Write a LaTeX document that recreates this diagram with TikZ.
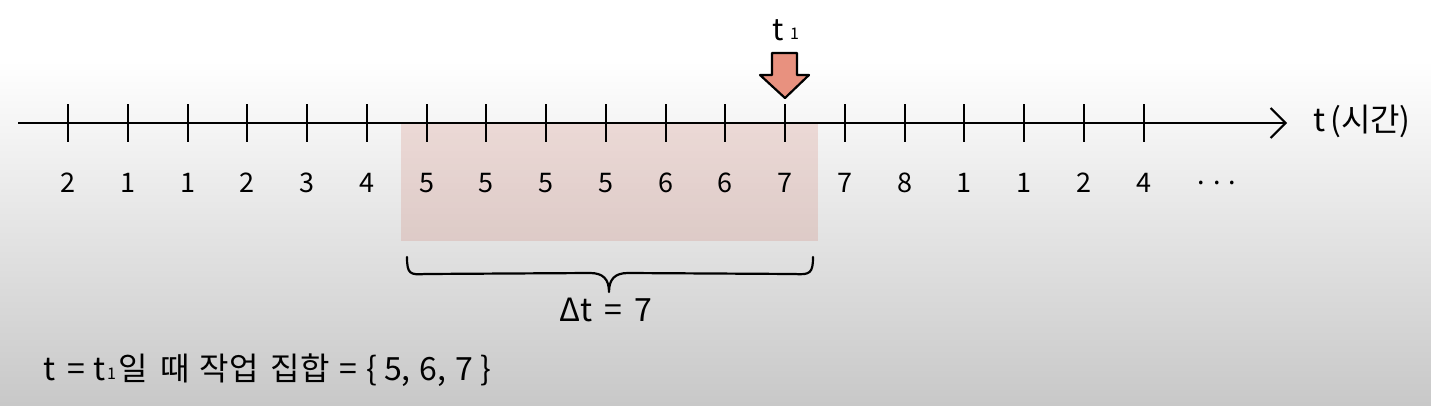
\documentclass[tikz,border=0pt]{standalone}
\usepackage{fontspec}
\setmainfont{Noto Sans CJK KR}
\usetikzlibrary{arrows.meta}
\definecolor{arrowfill}{RGB}{232,145,127}
\definecolor{pinkfill}{RGB}{205,120,105}
\definecolor{bgbot}{RGB}{200,200,200}
\tikzset{
  lbl/.style={font=\fontsize{27}{30}\selectfont, inner sep=0pt, anchor=center},
  txt/.style={font=\fontsize{30}{34}\selectfont, inner sep=0pt},
  bigtxt/.style={font=\fontsize{32}{36}\selectfont, inner sep=0pt},
  tickline/.style={line width=2pt},
  axisline/.style={line width=2pt, -{Straight Barb[length=15pt,width=30pt,line width=2pt]}},
  hand/.style={line width=2.2pt, line join=round, line cap=round},
}
\newcommand{\smallone}{{\fontsize{16}{16}\selectfont\raisebox{1pt}{1}}}
\begin{document}
\begin{tikzpicture}[x=1pt,y=-1pt]
\useasboundingbox (0,0) rectangle (1431,405);
% background
\fill[white] (0,0) rectangle (1431,61);
\shade[top color=white, bottom color=bgbot] (0,60) rectangle (1431,405);
% highlight window
\fill[pinkfill, opacity=0.22] (401,124) rectangle (818,241);
% axis
\coordinate (a0) at (18,123);
\coordinate (a1) at (1287,123);
\draw[axisline] (a0) -- (a1);
\node[bigtxt, anchor=west] (tlab) at (1313,121) {t\hspace{5pt}(시간)};
% ticks and labels
\foreach \v [count=\i from 0] in {2,1,1,2,3,4,5,5,5,5,6,6,7,7,8,1,1,2,4}{
  \pgfmathsetmacro{\xx}{68+59.75*\i}
  \draw[tickline] (\xx,104) -- (\xx,142);
  \node[lbl] (n\i) at (\xx,183) {\v};
}
\node[lbl] (dots) at (1217,183) {.\hspace{8pt}.\hspace{8pt}.};
% t1 arrow
\draw[hand, fill=arrowfill] (772,53) -- (797,53) -- (797,75) -- (809,75) -- (785,98) -- (760,75) -- (772,75) -- cycle;
\node[txt] (t1) at (786,30) {t\hspace{6pt}\smallone};
% brace
\draw[hand] (407,257) .. controls (407,274) and (410,275) .. (425,274)
  -- (590,273) .. controls (603,273) and (609,279) .. (609,292)
  .. controls (609,279) and (615,273) .. (628,273)
  -- (795,274) .. controls (810,275) and (813,273) .. (813,257);
\node[bigtxt] (dt) at (606,310) {Δt\hspace{12pt}=\hspace{12pt}7};
% bottom text
\node[bigtxt, anchor=west] (set) at (43,370) {t\hspace{12pt}=\hspace{8pt}t\hspace{2pt}\smallone\hspace{3pt}일\hspace{12pt}때\hspace{10pt}작업\hspace{12pt}집합\hspace{10pt}=\hspace{9pt}\{\hspace{7pt}5,\hspace{9pt}6,\hspace{9pt}7\hspace{7pt}\}};
\end{tikzpicture}
\end{document}
